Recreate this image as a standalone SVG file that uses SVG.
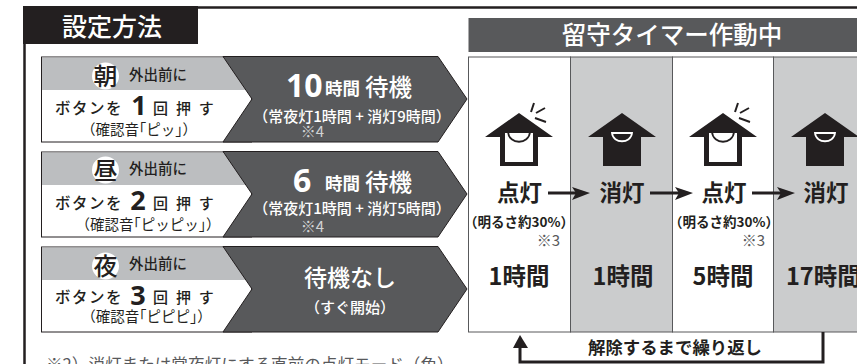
<svg xmlns="http://www.w3.org/2000/svg" width="857" height="364" viewBox="0 0 857 364">
<style>
text{font-family:"Noto Sans CJK JP","Noto Sans",sans-serif}
.d{fill:#231f20}.m{text-anchor:middle}
.kan{font-size:24px;fill:#231f20;font-weight:500;text-anchor:middle}
.lab{font-size:14.5px;fill:#231f20;font-weight:500}
.btn{font-size:15.500px;fill:#231f20;font-weight:500;letter-spacing:1.500px}
.act{font-size:15px;fill:#231f20;font-weight:500;word-spacing:4.500px}
.num{font-size:27px;fill:#231f20;font-weight:700;text-anchor:middle;font-family:"Open Sans","Noto Sans",sans-serif}
.snd{font-size:14.5px;fill:#231f20;text-anchor:middle}
.sub{font-size:15px;fill:#fff;font-weight:500;text-anchor:middle}
.star{font-size:15px;fill:#d1d3d4;text-anchor:middle}
.h1{font-size:32px;fill:#fff;font-weight:700;font-family:"Open Sans","Noto Sans",sans-serif}
.h2{font-size:17.500px;fill:#fff;font-weight:700}
.h3{font-size:23.500px;fill:#fff;font-weight:500}
.ch{font-size:22.500px;fill:#231f20;font-weight:700;text-anchor:middle}
.big{font-size:23.500px;fill:#231f20;font-weight:700;text-anchor:middle}
.sm{font-size:13.500px;fill:#231f20;font-weight:700;text-anchor:middle}
.s3{font-size:15px;fill:#58595b;text-anchor:middle}
.cell{stroke:#58595b;stroke-width:1}
.flow{stroke:#231f20;stroke-width:3;fill:none}
.lg{fill:#bcbec0}.dk{fill:#58595b;stroke:#231f20}.bx{fill:#fff;stroke:#231f20}
</style>
<defs>
<path id="ho" fill="#231f20" d="M0 -38 L34 -14 L19 -14 L19 15 L-19 15 L-19 -14 L-34 -14 Z"/>
<g id="lit">
<use href="#ho"/>
<path fill="#fff" d="M-14 -18 H14 V11 H-14Z"/>
<path fill="#fff" stroke="#231f20" stroke-width="1.800" d="M-11 -19 H11 C10 -6 -10 -6 -11 -19Z"/>
<path d="M15 -48 L12 -39 M26 -43 L17 -38 M27 -29 L16 -33" stroke="#231f20" stroke-width="2" fill="none"/>
</g>
<g id="off">
<use href="#ho"/>
<path fill="none" stroke="#fff" stroke-width="1.800" d="M-10 -18 H10 C9 -7 -9 -7 -10 -18Z"/>
</g>
</defs>

<rect fill="#fff" width="857" height="364"/>
<g id="frame">
<path d="M24 7.500 H857 M24.500 7 V364" stroke="#231f20" stroke-width="2.500" fill="none"/>
<rect x="23" y="6" width="175" height="38" fill="#231f20"/>
<text x="112" y="36" class="m" font-size="25" fill="#fff" font-weight="500">設定方法</text>
</g>

<g id="row1">
<rect class="bx" x="41.500" y="57" width="210" height="85"/>
<path class="lg" d="M42 57.500 H223 L252 90 H42Z"/>
<path class="dk" d="M223 56.500 H438 L467 99 L438 142 H223 L252 99Z"/>
<circle cx="105.500" cy="76" r="13.500" fill="#fff"/>
<text x="105.500" y="85" class="kan">朝</text>
<text x="129" y="79.500" class="lab">外出前に</text>
<text x="55" y="114" class="btn">ボタンを</text>
<text x="139" y="115" class="num">1</text>
<text x="153" y="114" class="act">回 押 す</text>
<text x="139" y="135" class="snd">（確認音｢ピッ｣）</text>
<text x="286" y="97" class="h1">10</text>
<text x="325" y="95" class="h2">時間</text>
<text x="365" y="96" class="h3">待機</text>
<text x="352" y="122" class="sub">（常夜灯1時間 + 消灯9時間）</text>
<text x="312.500" y="137" class="star">※4</text>
</g>

<g id="row2">
<rect class="bx" x="41.500" y="152" width="210" height="85"/>
<path class="lg" d="M42 152.500 H223 L252 185 H42Z"/>
<path class="dk" d="M223 151.500 H438 L467 194 L438 237 H223 L252 194Z"/>
<circle cx="105.500" cy="170" r="13.500" fill="#fff"/>
<text x="105.500" y="179" class="kan">昼</text>
<text x="129" y="173.500" class="lab">外出前に</text>
<text x="55" y="209" class="btn">ボタンを</text>
<text x="138" y="210" class="num">2</text>
<text x="153" y="209" class="act">回 押 す</text>
<text x="148" y="230" class="snd">（確認音｢ピッピッ｣）</text>
<text x="293" y="192" class="h1">6</text>
<text x="325" y="190" class="h2">時間</text>
<text x="365" y="191" class="h3">待機</text>
<text x="352" y="214" class="sub">（常夜灯1時間 + 消灯5時間）</text>
<text x="312.500" y="232" class="star">※4</text>
</g>

<g id="row3">
<rect class="bx" x="41.500" y="247" width="210" height="85"/>
<path class="lg" d="M42 247.500 H223 L252 280 H42Z"/>
<path class="dk" d="M223 246.500 H438 L467 289 L438 332 H223 L252 289Z"/>
<circle cx="105.500" cy="266" r="13.500" fill="#fff"/>
<text x="105.500" y="275" class="kan">夜</text>
<text x="129" y="268.500" class="lab">外出前に</text>
<text x="55" y="303" class="btn">ボタンを</text>
<text x="138" y="305" class="num">3</text>
<text x="153" y="303" class="act">回 押 す</text>
<text x="146.500" y="322" class="snd">（確認音｢ピピピ｣）</text>
<text x="350" y="286" class="m" font-size="23" font-weight="500" fill="#fff">待機なし</text>
<text x="350" y="313" class="sub">（すぐ開始）</text>
</g>

<g id="timer-title">
<rect x="468.500" y="18" width="389" height="34" fill="#58595b"/>
<text x="672" y="44" class="m" font-size="24.500" fill="#fff" font-weight="500">留守タイマー作動中</text>
</g>

<g id="col1">
<rect class="cell" x="468.500" y="57" width="102" height="275" fill="#fff"/>
<use href="#lit" x="519" y="151"/>
<text x="519.500" y="201" class="ch">点灯</text>
<text x="519" y="227" class="sm">（明るさ約30%）</text>
<text x="548.500" y="246" class="s3">※3</text>
<text x="519" y="285" class="big">1時間</text>
</g>
<g id="col2">
<rect class="cell" x="570.500" y="57" width="102" height="275" fill="#cbcccd"/>
<use href="#off" x="622" y="151"/>
<text x="622" y="201" class="ch">消灯</text>
<text x="623" y="285" class="big">1時間</text>
</g>
<g id="col3">
<rect class="cell" x="672.500" y="57" width="101" height="275" fill="#fff"/>
<use href="#lit" x="723" y="151"/>
<text x="724" y="201" class="ch">点灯</text>
<text x="724" y="227" class="sm">（明るさ約30%）</text>
<text x="753.500" y="246" class="s3">※3</text>
<text x="723" y="285" class="big">5時間</text>
</g>
<g id="col4">
<rect class="cell" x="773.500" y="57" width="90" height="275" fill="#cbcccd"/>
<use href="#off" x="825" y="151"/>
<text x="826" y="201" class="ch">消灯</text>
<text x="786" y="285" class="big" style="text-anchor:start">17時間</text>
</g>

<g id="connectors">
<path class="flow" d="M548 193 H578"/><path class="d" d="M572 187 L590 193 L572 200 L576 193Z"/>
<path class="flow" d="M650 193 H681"/><path class="d" d="M675 187 L693 193 L675 200 L679 193Z"/>
<path class="flow" d="M752 193 H783"/><path class="d" d="M777 187 L795 193 L777 200 L781 193Z"/>
<path class="flow" d="M823 332 V362 H520 V345"/><path class="d" d="M520 335 L528 348 H513Z"/>
</g>
<text id="repeat" x="675" y="354" class="m" font-size="17.400" font-weight="700" fill="#231f20">解除するまで繰り返し</text>
<text id="note" x="46" y="371" font-size="16.600" fill="#58595b">※2）消灯または常夜灯にする直前の点灯モード（色）</text>
</svg>
